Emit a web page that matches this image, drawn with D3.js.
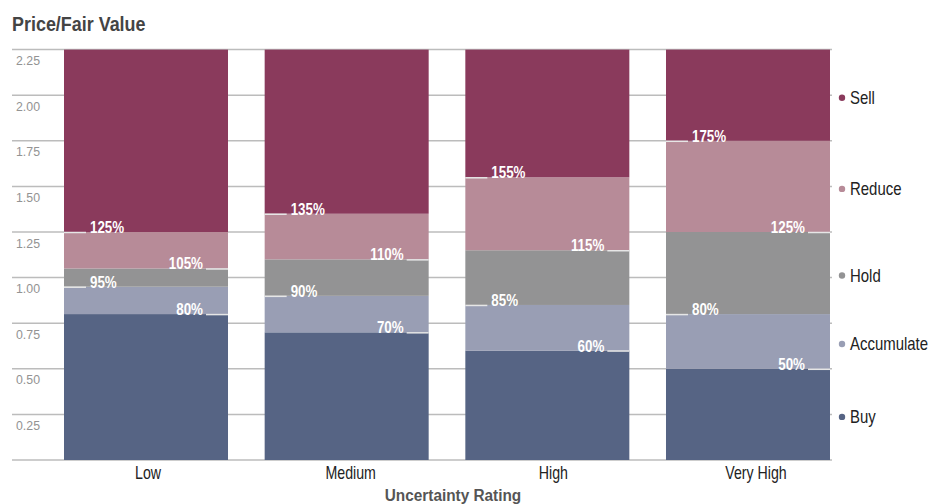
<!DOCTYPE html>
<html>
<head>
<meta charset="utf-8">
<script src="https://cdn.jsdelivr.net/npm/d3@7/dist/d3.min.js"></script>
<style>
  html, body { margin: 0; padding: 0; background: #fff; }
  svg { display: block; }
  text { font-family: "Liberation Sans", Arial, sans-serif; }
</style>
</head>
<body>
<svg id="chart" width="929" height="504"></svg>
<script>
// ---- Data ----
const categories = ["Low", "Medium", "High", "Very High"];
const ratings = ["Buy", "Accumulate", "Hold", "Reduce", "Sell"];
// Upper boundary (price / fair value) of each rating band per uncertainty rating
const buyTop        = [0.80, 0.70, 0.60, 0.50];
const accumulateTop = [0.95, 0.90, 0.85, 0.80];
const holdTop       = [1.05, 1.10, 1.15, 1.25];
const reduceTop     = [1.25, 1.35, 1.55, 1.75];
const sellTop       = [2.25, 2.25, 2.25, 2.25];
const yTicks = [0.25, 0.50, 0.75, 1.00, 1.25, 1.50, 1.75, 2.00, 2.25];
const colors = ["#566484", "#999eb4", "#939394", "#b78b98", "#8a3a5c"];
// which boundary labels sit on the left (true) or right (false)
const labelSide = [false, true, false, true];

const tops = [buyTop, accumulateTop, holdTop, reduceTop, sellTop];

// ---- Layout ----
const svg = d3.select("#chart");
const x = d3.scaleBand().domain(categories).range([64, 830]).paddingInner(0.1827).paddingOuter(0);
const xLabel = d3.scalePoint().domain(categories).range([148, 756]);
const y = d3.scaleLinear().domain([0, 2.25]).range([460, 49.6]);

// condensed text helper: place at (px,py) and squeeze horizontally
function cond(sel, px, py, sx) {
  return sel.attr("x", 0).attr("y", 0)
    .attr("transform", (d, i) => {
      const X = typeof px === "function" ? px(d, i) : px;
      const Y = typeof py === "function" ? py(d, i) : py;
      return `translate(${X},${Y}) scale(${sx},1)`;
    });
}

// Title
cond(svg.append("text"), 12, 30.5, 0.92)
  .attr("font-size", 19.5).attr("font-weight", "bold").attr("fill", "#444")
  .text("Price/Fair Value");

// Gridlines
const grid = svg.append("g");
grid.selectAll("line").data([0].concat(yTicks)).join("line")
  .attr("x1", 12).attr("x2", 832)
  .attr("y1", d => y(d)).attr("y2", d => y(d))
  .attr("stroke", "#bcbcbc").attr("stroke-width", 1.5);

// Tick labels (below the gridline)
cond(svg.append("g").selectAll("text").data(yTicks).join("text"), 16, d => y(d) + 15.5, 0.95)
  .attr("font-size", 13).attr("fill", "#939393")
  .text(d => d.toFixed(2));

// Bars
const segs = [];
categories.forEach((c, i) => {
  ratings.forEach((r, j) => {
    const lo = j === 0 ? 0 : tops[j - 1][i];
    segs.push({ c, r, lo, hi: tops[j][i], color: colors[j] });
  });
});
svg.append("g").selectAll("rect").data(segs).join("rect")
  .attr("x", d => x(d.c)).attr("width", x.bandwidth())
  .attr("y", d => y(d.hi)).attr("height", d => y(d.lo) - y(d.hi))
  .attr("fill", d => d.color);

// Boundary labels
const labels = [];
categories.forEach((c, i) => {
  for (let j = 0; j < 4; j++) {
    labels.push({ c, v: tops[j][i], left: labelSide[j] });
  }
});
const lg = svg.append("g");
lg.selectAll("line").data(labels).join("line")
  .attr("x1", d => d.left ? x(d.c) : x(d.c) + x.bandwidth() - 22)
  .attr("x2", d => d.left ? x(d.c) + 22 : x(d.c) + x.bandwidth())
  .attr("y1", d => y(d.v) + 0.5).attr("y2", d => y(d.v) + 0.5)
  .attr("stroke", "#e6e6e6").attr("stroke-width", 1.5);
cond(lg.selectAll("text").data(labels).join("text"),
     d => d.left ? x(d.c) + 26 : x(d.c) + x.bandwidth() - 25,
     d => y(d.v) + 1, 0.81)
  .attr("text-anchor", d => d.left ? "start" : "end")
  .attr("font-size", 16.5).attr("font-weight", "bold").attr("fill", "#fff")
  .text(d => Math.round(d.v * 100) + "%");

// Category labels
cond(svg.append("g").selectAll("text").data(categories).join("text"), d => xLabel(d), 479, 0.81)
  .attr("text-anchor", "middle").attr("font-size", 17.5).attr("fill", "#222")
  .text(d => d);

// Axis title
cond(svg.append("text"), 453, 500.5, 0.96)
  .attr("text-anchor", "middle").attr("font-size", 16).attr("font-weight", "bold").attr("fill", "#555")
  .text("Uncertainty Rating");

// Legend, aligned to the last category's bands
const last = categories.length - 1;
const legend = ratings.map((r, j) => ({
  r, color: colors[j],
  mid: ((j === 0 ? 0 : tops[j - 1][last]) + tops[j][last]) / 2
}));
const leg = svg.append("g");
leg.selectAll("circle").data(legend).join("circle")
  .attr("cx", 842).attr("cy", d => y(d.mid) + 2.5).attr("r", 3.2)
  .attr("fill", d => d.color);
cond(leg.selectAll("text").data(legend).join("text"), 850, d => y(d.mid) + 2.5, 0.83)
  .attr("dy", "0.36em").attr("font-size", 18).attr("fill", "#222")
  .text(d => d.r);
</script>
</body>
</html>
